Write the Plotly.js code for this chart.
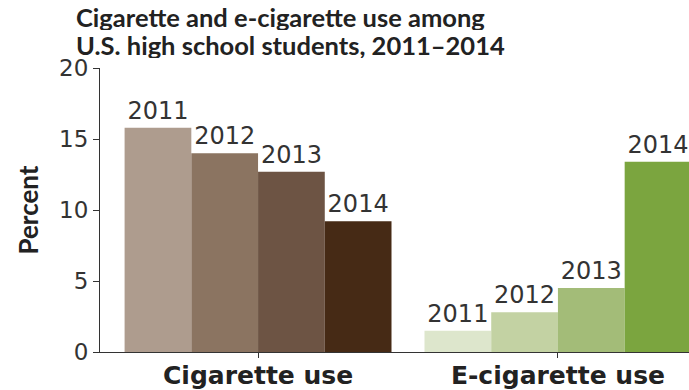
<!DOCTYPE html>
<html>
<head>
<meta charset="utf-8">
<script src="https://cdn.plot.ly/plotly-3.0.1.min.js"></script>
<style>html,body{margin:0;padding:0;background:#fff;}#chart{width:689px;height:390px;}</style>
</head>
<body>
<div id="chart"></div>
<script>
var categories = ['Cigarette use', 'E-cigarette use'];
var years = ['2011', '2012', '2013', '2014'];
var cigarette = [15.8, 14.0, 12.7, 9.2];
var ecigarette = [1.5, 2.8, 4.5, 13.4];
var cigColors = ['#ae9c8e', '#8b7461', '#6d5444', '#462a15'];
var ecigColors = ['#dde6cc', '#c3d2a3', '#a3bc78', '#7ba53f'];
var titleLines = ['Cigarette and e-cigarette use among', 'U.S. high school students, 2011–2014'];

var traces = years.map(function (yr, i) {
  return {
    type: 'bar',
    name: yr,
    x: categories,
    y: [cigarette[i], ecigarette[i]],
    text: [yr, yr],
    textposition: 'outside',
    cliponaxis: false,
    textfont: {family: 'DejaVu Sans', size: 24, color: '#333'},
    marker: {color: [cigColors[i], ecigColors[i]]},
    hoverinfo: 'none'
  };
});

var W = 689, H = 390, L = 100, T = 68, B = 38;
var plotH = H - T - B, plotW = W - L;

var annotations = titleLines.map(function (t, i) {
  return {
    text: t, showarrow: false,
    xref: 'paper', yref: 'paper',
    x: (75 - L) / plotW, xanchor: 'left',
    y: 1 + (T - (17.5 + i * 27.5)) / plotH, yanchor: 'middle',
    height: 26, valign: 'middle', borderpad: 0,
    font: {family: 'Lato', size: 25.5, color: '#222', weight: 'bold'}
  };
});

var layout = {
  width: W, height: H,
  margin: {l: L, r: 0, t: T, b: B},
  paper_bgcolor: '#fff', plot_bgcolor: '#fff',
  showlegend: false,
  barmode: 'group', bargap: 0.11, bargroupgap: 0,
  annotations: annotations,
  xaxis: {
    type: 'category',
    range: [-0.527, 1.437],
    showline: true, linecolor: '#333', linewidth: 1,
    ticks: 'outside', ticklen: 5, tickcolor: '#333',
    ticklabelstandoff: -4,
    tickfont: {family: 'DejaVu Sans', size: 25, color: '#222', weight: 'bold'},
    showgrid: false, zeroline: false, fixedrange: true
  },
  yaxis: {
    range: [0, 20],
    tickvals: [0, 5, 10, 15, 20],
    showline: true, linecolor: '#333', linewidth: 1,
    ticks: 'outside', ticklen: 6, tickcolor: '#333',
    tickfont: {family: 'DejaVu Sans', size: 23, color: '#333'},
    showgrid: false, zeroline: false,
    title: {text: 'Percent', font: {family: 'Lato', size: 26, color: '#222', weight: 'bold'}, standoff: 13}
  }
};

Plotly.newPlot('chart', traces, layout, {displayModeBar: false, staticPlot: true});
</script>
</body>
</html>
